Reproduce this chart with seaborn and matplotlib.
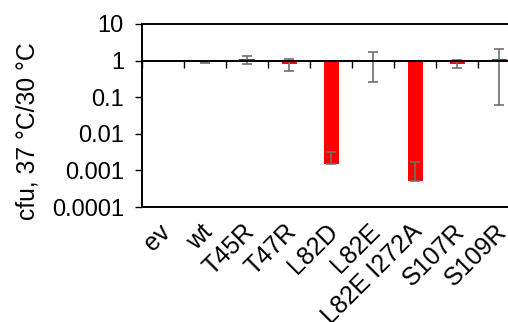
import numpy as np
import pandas as pd
import matplotlib
matplotlib.use("Agg")
import matplotlib.pyplot as plt
from matplotlib.ticker import NullLocator
from matplotlib.transforms import ScaledTranslation
import seaborn as sns

# ---- data ----
categories = ["ev", "wt", "T45R", "T47R", "L82D", "L82E", "L82E I272A", "S107R", "S109R"]
values = [np.nan, 0.90, 1.10, 0.80, 0.00147, 1.00, 0.00052, 0.82, 1.08]
err_low = [np.nan, 0.03, 0.27, 0.28, 0.0, 0.74, 0.0, 0.20, 1.02]
err_high = [np.nan, 0.03, 0.27, 0.28, 0.0017, 0.74, 0.00113, 0.20, 1.02]
ytick_values = [0.0001, 0.001, 0.01, 0.1, 1, 10]
ytick_labels = ["0.0001", "0.001", "0.01", "0.1", "1", "10"]
ylabel = "cfu, 37 °C/30 °C"
baseline = 1.0

sns.set_style("ticks")
plt.rcParams["font.family"] = ["Liberation Sans", "DejaVu Sans"]

fig = plt.figure(figsize=(5.08, 3.22), dpi=100)
ax = fig.add_axes([142 / 508, 115 / 322, 366 / 508, 183 / 322])

df = pd.DataFrame({"cat": categories, "delta": np.array(values) - baseline})
sns.barplot(data=df, x="cat", y="delta", order=categories, color="#ff0000",
            saturation=1, width=0.36, bottom=baseline, errorbar=None,
            linewidth=0, ax=ax, zorder=1)

x_pos = np.arange(len(categories))
ax.errorbar(x_pos, values, yerr=[err_low, err_high], fmt="none",
            ecolor="#707070", elinewidth=1.2, capsize=3.6, capthick=1.2, zorder=2)

ax.set_yscale("log")
ax.set_ylim(ytick_values[0], ytick_values[-1])
ax.set_xlim(-0.5, 8.21)

ax.spines["bottom"].set_position(("data", baseline))
ax.spines["right"].set_visible(False)
for s in ["left", "top", "bottom"]:
    ax.spines[s].set_linewidth(1.4)
    ax.spines[s].set_color("black")

ax.set_xticks(np.arange(len(categories)) - 0.5)
ax.tick_params(axis="x", which="major", direction="out", length=4.7, width=1,
               color="black", labelbottom=False)
ax.tick_params(axis="x", which="minor", bottom=False)
ax.set_xlabel("")

sec = ax.secondary_xaxis("bottom")
sec.set_ticks(x_pos, labels=categories, rotation=45, ha="right",
              rotation_mode="anchor", fontsize=18)
sec.tick_params(length=0, pad=9, colors="black")
sec.spines["bottom"].set_linewidth(1.4)
sec.spines["bottom"].set_color("black")
shift = ScaledTranslation(-5 / 100, 0, fig.dpi_scale_trans)
for lab in sec.get_xticklabels():
    lab.set_transform(lab.get_transform() + shift)

ax.set_yticks(ytick_values, labels=ytick_labels)
ax.yaxis.set_minor_locator(NullLocator())
ax.tick_params(axis="y", direction="out", length=5, width=1, pad=8,
               labelsize=17, color="black", labelcolor="black")
ax.set_ylabel(ylabel, fontsize=17.7, color="black")
ax.yaxis.set_label_coords(-0.281, 0.415)

fig.savefig("out.png", dpi=100)
